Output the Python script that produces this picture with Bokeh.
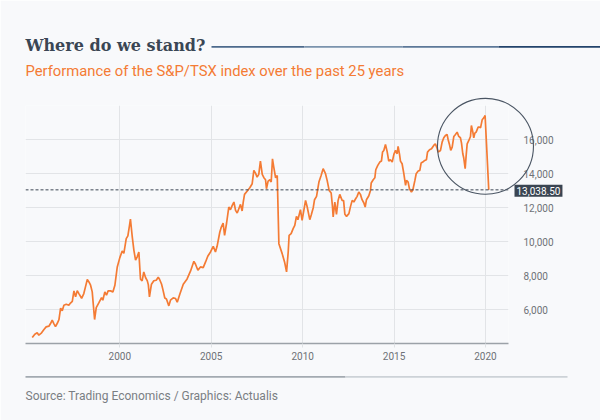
from bokeh.plotting import figure
from bokeh.models import FixedTicker, Span, NumeralTickFormatter, Range1d
from bokeh.core.properties import value
from bokeh.embed import file_html
from bokeh.resources import INLINE

# ---- data ----
years = [
    1995.21, 1995.35, 1995.48, 1995.57, 1995.72, 1995.85, 1995.97, 1996.12, 1996.21, 1996.30,
    1996.39, 1996.48, 1996.58, 1996.67, 1996.76, 1996.85, 1996.94, 1997.07, 1997.21, 1997.30,
    1997.40, 1997.49, 1997.58, 1997.67, 1997.76, 1997.91, 1998.03, 1998.12, 1998.22, 1998.31,
    1998.40, 1998.49, 1998.54, 1998.62, 1998.71, 1998.85, 1999.00, 1999.07, 1999.18, 1999.27,
    1999.36, 1999.49, 1999.62, 1999.73, 1999.86, 2000.00, 2000.13, 2000.22, 2000.35, 2000.44,
    2000.53, 2000.58, 2000.68, 2000.77, 2000.86, 2000.95, 2001.04, 2001.13, 2001.22, 2001.31,
    2001.41, 2001.50, 2001.56, 2001.62, 2001.73, 2001.86, 2001.99, 2002.10, 2002.17, 2002.28,
    2002.35, 2002.46, 2002.55, 2002.68, 2002.77, 2002.92, 2003.05, 2003.14, 2003.28, 2003.47,
    2003.68, 2003.87, 2004.05, 2004.14, 2004.27, 2004.41, 2004.56, 2004.69, 2004.81, 2004.96,
    2005.11, 2005.23, 2005.32, 2005.47, 2005.54, 2005.65, 2005.73, 2005.84, 2005.96, 2006.05,
    2006.15, 2006.24, 2006.33, 2006.42, 2006.51, 2006.60, 2006.69, 2006.75, 2006.82, 2006.97,
    2007.11, 2007.24, 2007.33, 2007.42, 2007.51, 2007.60, 2007.69, 2007.79, 2007.88, 2007.97,
    2008.02, 2008.11, 2008.21, 2008.28, 2008.35, 2008.42, 2008.52, 2008.61, 2008.70, 2008.88,
    2009.01, 2009.12, 2009.21, 2009.26, 2009.37, 2009.48, 2009.57, 2009.66, 2009.74, 2009.88,
    2009.97, 2010.16, 2010.25, 2010.39, 2010.47, 2010.58, 2010.65, 2010.76, 2010.89, 2011.01,
    2011.12, 2011.25, 2011.34, 2011.45, 2011.56, 2011.63, 2011.67, 2011.76, 2011.85, 2011.94,
    2012.03, 2012.16, 2012.24, 2012.31, 2012.40, 2012.53, 2012.62, 2012.71, 2012.80, 2012.89,
    2012.98, 2013.07, 2013.16, 2013.25, 2013.35, 2013.42, 2013.49, 2013.62, 2013.71, 2013.75,
    2013.86, 2013.95, 2014.00, 2014.11, 2014.22, 2014.31, 2014.37, 2014.44, 2014.53, 2014.62,
    2014.71, 2014.80, 2014.90, 2014.99, 2015.08, 2015.17, 2015.22, 2015.30, 2015.35, 2015.44,
    2015.53, 2015.63, 2015.68, 2015.77, 2015.84, 2015.95, 2016.03, 2016.14, 2016.21, 2016.32,
    2016.41, 2016.48, 2016.57, 2016.68, 2016.77, 2016.83, 2016.94, 2017.05, 2017.17, 2017.26,
    2017.36, 2017.41, 2017.54, 2017.63, 2017.72, 2017.81, 2017.90, 2017.96, 2018.03, 2018.10,
    2018.18, 2018.27, 2018.36, 2018.45, 2018.54, 2018.63, 2018.69, 2018.76, 2018.81, 2018.89,
    2018.94, 2019.00, 2019.09, 2019.18, 2019.23, 2019.31, 2019.36, 2019.42, 2019.49, 2019.60,
    2019.67, 2019.73, 2019.82, 2019.91, 2019.98, 2020.18,
]
index_values = [
    4353, 4549, 4627, 4490, 4627, 4823, 4979, 5019, 5175, 5371,
    5175, 4990, 5190, 5400, 6080, 5930, 6252, 6311, 6252, 6380,
    6480, 7094, 6742, 7110, 6937, 6660, 6937, 7329, 7760, 7623,
    7427, 7035, 6400, 5410, 6115, 6389, 6702, 6546, 7035, 6840,
    7094, 7094, 7035, 7427, 8504, 9052, 9444, 9300, 10168, 10330,
    10951, 11323, 10266, 9483, 8900, 9100, 9385, 7780, 7680, 8210,
    7870, 7700, 7450, 6742, 7486, 7690, 7721, 7900, 7780, 7500,
    7200, 6680, 6620, 6213, 6546, 6683, 6644, 6428, 6898, 7486,
    7799, 8269, 8836, 8660, 8308, 8504, 8464, 8797, 9130, 9385,
    9718, 9385, 9718, 10560, 10814, 11088, 10364, 11088, 12028, 11871,
    12126, 12322, 11832, 11676, 11930, 12185, 11793, 12322, 12772, 12968,
    13164, 13399, 14182, 14025, 13790, 13947, 14730, 13947, 13751, 13634,
    13105, 13555, 13634, 13497, 14867, 14378, 13751, 13888, 9874, 9287,
    8797, 8210, 9385, 10364, 10462, 10756, 10951, 11480, 11284, 11872,
    11245, 12420, 12028, 11284, 11560, 11989, 12459, 12655, 13497, 13888,
    14280, 13986, 13595, 13007, 12851, 12067, 11441, 12322, 11598, 12420,
    12772, 12420, 12400, 11598, 11480, 11637, 12067, 12420, 12322, 12498,
    12655, 12910, 12772, 12459, 12263, 12028, 12459, 12694, 13007, 13438,
    13634, 13751, 14221, 14476, 14672, 14731, 15259, 15357, 15709, 15300,
    14730, 14808, 14671, 15122, 15357, 15161, 15592, 15122, 14730, 14573,
    14025, 13301, 13594, 13497, 13105, 12909, 13046, 13594, 13986, 14143,
    14182, 14613, 14671, 14769, 14808, 15259, 15396, 15455, 15651, 15748,
    15455, 15259, 15357, 15846, 16101, 16238, 16297, 15983, 15709, 15357,
    15553, 16179, 16297, 16434, 16179, 16101, 15788, 15161, 14926, 14280,
    15005, 15748, 15944, 16179, 16825, 16434, 16101, 16375, 16434, 16727,
    16727, 16688, 17158, 17275, 17413, 13038.50,
]
x_ticks = [2000, 2005, 2010, 2015, 2020]
y_ticks = [6000, 8000, 10000, 12000, 14000, 16000]
grid_ticks = [6000, 8000, 10000, 12000, 14000, 16000, 18000]
last_value = 13038.50
last_label = "13,038.50"
highlight_year = 2020.0
highlight_value = 15600

title_text = "Where do we stand?"
subtitle_text = "Performance of the S&P/TSX index over the past 25 years"
source_text = "Source: Trading Economics  /  Graphics: Actualis"

BG = "#f8f9fb"
ORANGE = "#f47b34"
GRID = "#e2e4e7"

# ---- layout geometry ----
W, H = 600, 420
FL, FR, FT, FB = 25, 508, 105, 343   # frame edges in canvas pixels
X0, X1 = 1994.84, 2021.26
Y0, Y1 = 4000, 18000


def dx(px):
    """canvas pixel -> data x (for decorations outside the frame)"""
    return X0 + (px - FL) * (X1 - X0) / (FR - FL)


def dy(py):
    """canvas pixel (from top) -> data y"""
    return Y0 + (FB - py) * (Y1 - Y0) / (FB - FT)


p = figure(width=W, height=H, output_backend="svg", toolbar_location=None,
           x_range=Range1d(X0, X1), y_range=Range1d(Y0, Y1),
           y_axis_location="right",
           min_border_left=FL, min_border_right=W - FR, min_border_top=FT, min_border_bottom=H - FB,
           background_fill_color=BG, border_fill_color=BG, outline_line_color=None)

# axes
p.xaxis.ticker = FixedTicker(ticks=x_ticks)
p.xaxis.axis_line_color = "#9ca2a8"
p.xaxis.axis_line_width = 1.5
p.xaxis.major_tick_out = 4
p.xaxis.major_tick_in = 0
p.xaxis.major_tick_line_color = "#dfe2e5"
p.xaxis.minor_tick_line_color = None
p.xaxis.major_label_standoff = 4
p.xaxis.major_label_text_font = "Roboto"
p.xaxis.major_label_text_font_size = "10px"
p.xaxis.major_label_text_color = "#6e7277"

p.yaxis.ticker = FixedTicker(ticks=y_ticks)
p.yaxis.formatter = NumeralTickFormatter(format="0,0")
p.yaxis.axis_line_color = None
p.yaxis.major_tick_line_color = None
p.yaxis.minor_tick_line_color = None
p.yaxis.major_label_standoff = 9
p.yaxis.major_label_text_font = "Roboto"
p.yaxis.major_label_text_font_size = "10px"
p.yaxis.major_label_text_color = "#6e7277"

p.xgrid.ticker = FixedTicker(ticks=x_ticks)
p.ygrid.ticker = FixedTicker(ticks=grid_ticks)
p.xgrid.grid_line_color = GRID
p.ygrid.grid_line_color = GRID

# dashed reference line at last value
p.add_layout(Span(location=last_value, dimension="width", line_color="#3c4653",
                  line_dash="3 2", line_width=1))

# index line
p.line(years, index_values, line_color=ORANGE, line_width=1.7)

# highlight circle
p.scatter([highlight_year], [highlight_value], marker="circle", size=96,
          fill_color=None, line_color="#4a5563", line_width=1.1, level="overlay")

# last value badge
p.text(x=[X1], y=[last_value], text=[last_label], x_offset=6, y_offset=1,
       text_font=value("Roboto"), text_font_size="10px", text_color="#ffffff",
       text_align="left", text_baseline="middle",
       background_fill_color="#3a4552", padding=2, level="overlay")

# titles (anchored at the frame's corners, shifted in pixels)
p.text(x=[X0], y=[Y1], text=[title_text], x_offset=0, y_offset=45 - FT,
       text_font=value("DejaVu Serif"), text_font_style="bold", text_font_size="16px",
       text_color="#3a4654", text_baseline="alphabetic", text_align="left", level="overlay")
p.text(x=[X0], y=[Y1], text=[subtitle_text], x_offset=0, y_offset=70 - FT,
       text_font=value("Roboto"), text_font_size="14.8px",
       text_color=ORANGE, text_baseline="alphabetic", text_align="left", level="overlay")
p.text(x=[X0], y=[Y0], text=[source_text], x_offset=0, y_offset=395 - FB,
       text_font=value("Roboto"), text_font_size="12px",
       text_color="#7a7e83", text_baseline="alphabetic", text_align="left", level="overlay")

# decorative rules
rule_top = [(211, 304, "#4d6a8c"), (304, 402, "#7b93ad"), (402, 498, "#5d7898"), (498, 600, "#23436b")]
p.quad(left=[dx(a) for a, b, c in rule_top], right=[dx(b) for a, b, c in rule_top],
       top=[dy(45.5)] * 4, bottom=[dy(47.2)] * 4,
       fill_color=[c for a, b, c in rule_top], line_color=None, level="overlay")
rule_bottom = [(25, 345, "#a3aab1"), (345, 567, "#cdd2d7")]
p.quad(left=[dx(a) for a, b, c in rule_bottom], right=[dx(b) for a, b, c in rule_bottom],
       top=[dy(375.5)] * 2, bottom=[dy(377.3)] * 2,
       fill_color=[c for a, b, c in rule_bottom], line_color=None, level="overlay")

open("out.html", "w").write(file_html(p, INLINE))
